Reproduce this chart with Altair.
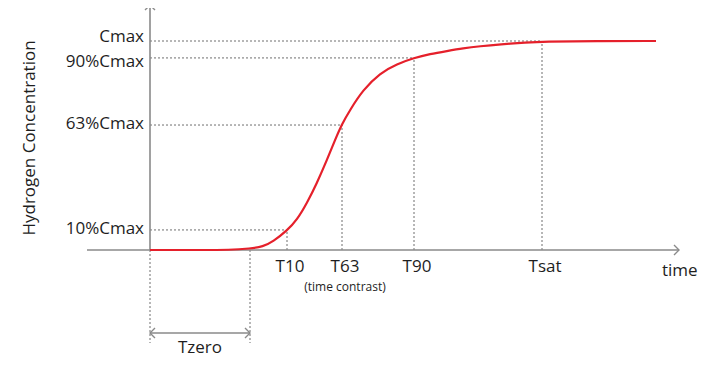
import altair as alt
import pandas as pd

# ---- data ----
curve_t = [0, 5, 8, 10, 11.3, 12.3, 13.7, 14.7, 15.7, 16.7, 17.7, 18.5, 19.2, 20.0, 21.3,
           23.0, 24.7, 26.4, 28.0, 29.7, 31.3, 33.0, 35.0, 37.7, 39.2, 45.0, 50.6]
curve_c = [0, 0, 0, 0.7, 1.6, 4.0, 9.3, 14.4, 22.5, 32.1, 43.1, 52.6, 60.3, 67.0, 76.6,
           84.7, 89.0, 91.9, 93.8, 95.2, 96.5, 97.5, 98.4, 99.3, 99.7, 100, 100]

level_labels = ["Cmax", "90%Cmax", "63%Cmax", "10%Cmax"]
level_values = [100, 91.9, 59.8, 9.6]
level_times = [39.2, 26.4, 19.2, 13.7]

time_labels = ["T10", "T63", "T90", "Tsat"]
time_values = [13.7, 19.2, 26.4, 39.2]
time_levels = [9.6, 59.8, 91.9, 100]

tzero = 10.0
x_axis_start, x_axis_end = -6.3, 52.9
y_axis_top = 117.2
drop_bottom = -44.5
dim_level = -39.7

XS = alt.Scale(domain=[-14.2, 55.0], nice=False, zero=False)
YS = alt.Scale(domain=[-51.67, 115.79], nice=False, zero=False)
FONT = "Open Sans"
GRAY = "#8a8a8a"
DOT = "#6e6e6e"
TXT = "#1e1e1e"


def X(f):
    return alt.X(f, type="quantitative", scale=XS, axis=None)


def Y(f):
    return alt.Y(f, type="quantitative", scale=YS, axis=None)


curve = pd.DataFrame({"t": curve_t, "c": curve_c})
hguides = pd.DataFrame({"x": [0] * 4, "x2": level_times, "y": level_values})
vguides = pd.DataFrame({"x": time_values, "y": [0] * 4, "y2": time_levels})
drops = pd.DataFrame({"x": [0, tzero], "y": [0, 0], "y2": [drop_bottom, drop_bottom]})
xaxis = pd.DataFrame({"x": [x_axis_start], "x2": [x_axis_end], "y": [0]})
yaxis = pd.DataFrame({"x": [0], "y": [0], "y2": [y_axis_top]})
dim = pd.DataFrame({"x": [0], "x2": [tzero], "y": [dim_level]})
arrows = pd.DataFrame({
    "x": [x_axis_end, 0, 0, tzero],
    "y": [0, y_axis_top, dim_level, dim_level],
    "a": [0, 270, 180, 0],
})

levels = pd.DataFrame({"x": [-0.6] * 4, "y": level_values, "label": level_labels})
tlabels = pd.DataFrame({"x": time_values, "y": [-8.1] * 4, "label": time_labels})

dotted = dict(color=DOT, strokeWidth=1, strokeDash=[2, 2])

hg = alt.Chart(hguides).mark_rule(**dotted).encode(x=X("x"), x2="x2", y=Y("y"))
vg = alt.Chart(vguides).mark_rule(**dotted).encode(x=X("x"), y=Y("y"), y2="y2")
dg = alt.Chart(drops).mark_rule(**dotted).encode(x=X("x"), y=Y("y"), y2="y2")
xa = alt.Chart(xaxis).mark_rule(color=GRAY, strokeWidth=1.6).encode(x=X("x"), x2="x2", y=Y("y"))
ya = alt.Chart(yaxis).mark_rule(color=GRAY, strokeWidth=1.6).encode(x=X("x"), y=Y("y"), y2="y2")
dm = alt.Chart(dim).mark_rule(color=GRAY, strokeWidth=1.3).encode(x=X("x"), x2="x2", y=Y("y"))
ar = alt.Chart(arrows).mark_point(
    shape="M-1,-1L0,0L-1,1", filled=False, color=GRAY, strokeWidth=1.4, size=100, opacity=1
).encode(x=X("x"), y=Y("y"), angle=alt.Angle("a:Q", scale=None))

line = alt.Chart(curve).mark_line(color="#e5202b", strokeWidth=2.2, interpolate="basis").encode(
    x=X("t"), y=Y("c"))

txt = dict(font=FONT, fontSize=17, color=TXT)
lv_top = alt.Chart(levels.iloc[[0]]).mark_text(align="right", baseline="middle", dy=-4, **txt).encode(
    x=X("x"), y=Y("y"), text="label:N")
lv_90 = alt.Chart(levels.iloc[[1]]).mark_text(align="right", baseline="middle", dy=4, **txt).encode(
    x=X("x"), y=Y("y"), text="label:N")
lv_rest = alt.Chart(levels.iloc[[2, 3]]).mark_text(align="right", baseline="middle", dy=-1, **txt).encode(
    x=X("x"), y=Y("y"), text="label:N")
tl = alt.Chart(tlabels).mark_text(align="center", baseline="middle", dx=3, **txt).encode(
    x=X("x"), y=Y("y"), text="label:N")

extra = pd.DataFrame({
    "x": [51.2, 5.0],
    "y": [-10.0, -46.9],
    "label": ["time", "Tzero"],
})
ex_time = alt.Chart(extra.iloc[[0]]).mark_text(align="left", baseline="middle", **txt).encode(
    x=X("x"), y=Y("y"), text="label:N")
ex_tz = alt.Chart(extra.iloc[[1]]).mark_text(align="center", baseline="middle", **txt).encode(
    x=X("x"), y=Y("y"), text="label:N")
tc = alt.Chart(pd.DataFrame({"x": [19.5], "y": [-17.7], "label": ["(time contrast)"]})).mark_text(
    align="center", baseline="middle", font=FONT, fontSize=12, color=TXT).encode(
    x=X("x"), y=Y("y"), text="label:N")
yt = alt.Chart(pd.DataFrame({"x": [-12.0], "y": [53.6], "label": ["Hydrogen Concentration"]})).mark_text(
    align="center", baseline="middle", angle=270, **txt).encode(
    x=X("x"), y=Y("y"), text="label:N")

chart = alt.layer(hg, vg, dg, xa, ya, dm, ar, line, lv_top, lv_90, lv_rest, tl, ex_time, ex_tz, tc, yt).properties(
    width=692, height=350,
    autosize=alt.AutoSizeParams(type="none"),
    padding=0,
    background="white",
).configure_view(stroke=None)

chart.save("out.html", embed_options={"renderer": "svg", "actions": False})
